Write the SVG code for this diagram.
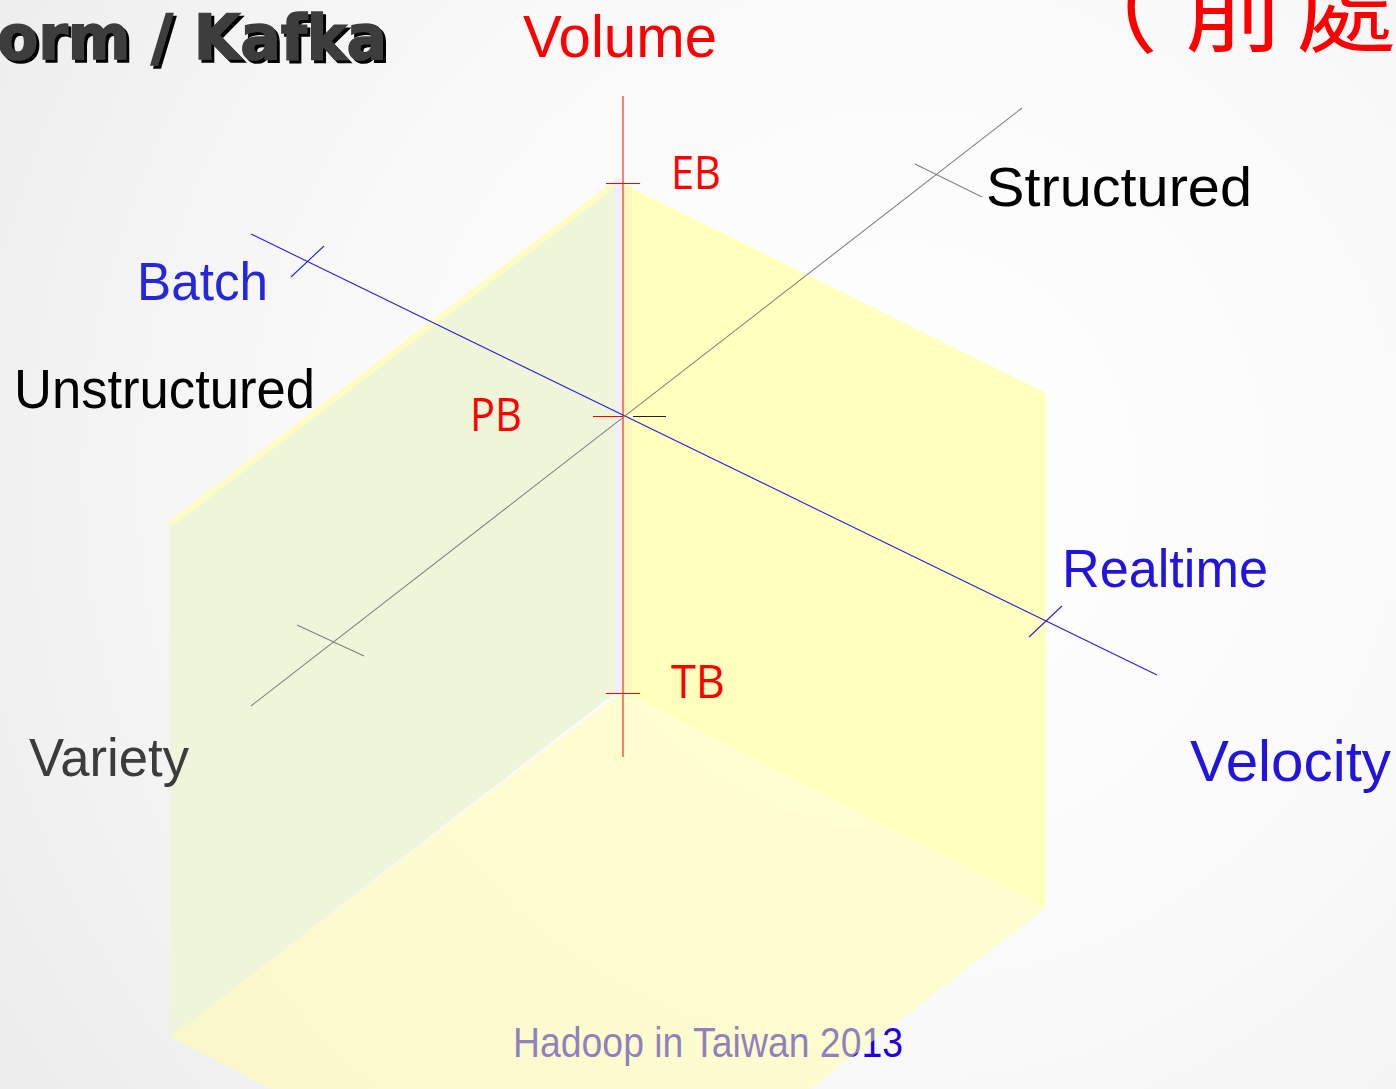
<svg xmlns="http://www.w3.org/2000/svg" width="1396" height="1089" viewBox="0 0 1396 1089">
  <defs>
    <radialGradient id="bg" cx="900" cy="480" r="1050" gradientUnits="userSpaceOnUse">
      <stop offset="0" stop-color="#ffffff"/>
      <stop offset="0.55" stop-color="#f9f9f9"/>
      <stop offset="1" stop-color="#ededed"/>
    </radialGradient>
    <filter id="shadow" x="-5%" y="-20%" width="115%" height="150%">
      <feOffset in="SourceAlpha" dx="3" dy="3" result="off"/>
      <feMerge>
        <feMergeNode in="off"/>
        <feMergeNode in="SourceGraphic"/>
      </feMerge>
    </filter>
    <style>
      .lbl { font-family: "Liberation Sans", Arial, sans-serif; }
      .unit { font-family: "Open Sans", "Noto Sans", sans-serif; fill: #ff0000; font-size: 45px; }
      .red { fill: #ff0000; }
      .blue { fill: #2214dc; }
      .blk { fill: #000000; }
      .ax-red { stroke: #ff0000; stroke-width: 1; fill: none; }
      .ax-blue { stroke: #2a1ee0; stroke-width: 1.1; fill: none; }
      .ax-gray { stroke: #808080; stroke-width: 1.1; fill: none; }
      .tick-black { stroke: #202020; stroke-width: 1.2; fill: none; }
    </style>
  </defs>

  <rect x="0" y="0" width="1396" height="1089" fill="url(#bg)"/>

  <!-- Title (cut off at the left edge) -->
  <g id="title" filter="url(#shadow)">
    <text x="-3" y="59" font-family="'DejaVu Sans', sans-serif" font-weight="bold" font-size="62" textLength="390" lengthAdjust="spacingAndGlyphs" fill="#3e3e3e" stroke="#3e3e3e" stroke-width="1.6">orm / Kafka</text>
  </g>

  <g id="subtitle-cjk">
    <text x="1058 1184 1296" y="44" font-family="'Noto Sans CJK TC', 'Noto Sans CJK SC', sans-serif" font-size="100" fill="#ff0000">（前處</text>
  </g>

  <!-- Cube faces -->
  <g id="face-left">
    <polygon points="615,183 170,523 170,1037 615,693" fill="#eff5d9"/>
    <line x1="615" y1="184" x2="170" y2="524" stroke="#fdfdc2" stroke-width="6"/>
    <rect x="614" y="178" width="8" height="515" fill="#eef1f8"/>
  </g>
  <g id="face-right">
    <polygon points="622,183 1046,393 1046,908 622,693" fill="#ffffbe"/>
    <rect x="623" y="186" width="9" height="507" fill="#f9f9bf"/>
  </g>

  <!-- Footer text (lies under the translucent bottom face) -->
  <g id="footer">
    <text class="lbl" x="513" y="1057" font-size="42" textLength="390" lengthAdjust="spacingAndGlyphs" fill="#2200dd">Hadoop in Taiwan 2013</text>
  </g>

  <g id="face-bottom">
    <polygon points="620,693 1046,908 594,1255 170,1037" fill="#ffffa3" fill-opacity="0.5"/>
  </g>

  <!-- Axes -->
  <g id="connectors">
    <line class="ax-red" x1="623" y1="96" x2="623" y2="757"/>
    <line class="ax-red" x1="606" y1="183.5" x2="640" y2="183.5"/>
    <line class="ax-red" x1="593" y1="416.5" x2="623" y2="416.5"/>
    <line class="tick-black" x1="633" y1="416.5" x2="666" y2="416.5"/>
    <line class="ax-red" x1="606" y1="693.5" x2="640" y2="693.5"/>

    <line class="ax-blue" x1="251" y1="234" x2="1157" y2="675"/>
    <line class="ax-blue" x1="291" y1="277" x2="324" y2="246"/>
    <line class="ax-blue" x1="1029" y1="637" x2="1062" y2="606"/>

    <line class="ax-gray" x1="251" y1="706" x2="1022" y2="108"/>
    <line class="ax-gray" x1="915" y1="164" x2="982" y2="197"/>
    <line class="ax-gray" x1="297" y1="625" x2="364" y2="656"/>
  </g>

  <!-- Labels -->
  <g id="volume"><text class="lbl red" x="523" y="57" font-size="60" textLength="194" lengthAdjust="spacingAndGlyphs">Volume</text></g>
  <g id="eb"><text class="unit" x="671" y="189" textLength="50" lengthAdjust="spacingAndGlyphs">EB</text></g>
  <g id="pb"><text class="unit" x="470" y="431" textLength="52" lengthAdjust="spacingAndGlyphs">PB</text></g>
  <g id="tb"><text class="unit" x="671" y="698" textLength="54" lengthAdjust="spacingAndGlyphs">TB</text></g>
  <g id="structured"><text class="lbl blk" x="986" y="206" font-size="56" textLength="266" lengthAdjust="spacingAndGlyphs">Structured</text></g>
  <g id="unstructured"><text class="lbl blk" x="14" y="408" font-size="55" textLength="301" lengthAdjust="spacingAndGlyphs">Unstructured</text></g>
  <g id="batch"><text class="lbl" x="137" y="300" font-size="53" textLength="131" lengthAdjust="spacingAndGlyphs" fill="#2626dc">Batch</text></g>
  <g id="realtime"><text class="lbl blue" x="1062" y="587" font-size="54" textLength="206" lengthAdjust="spacingAndGlyphs">Realtime</text></g>
  <g id="velocity"><text class="lbl blue" x="1190" y="781" font-size="58" textLength="201" lengthAdjust="spacingAndGlyphs">Velocity</text></g>
  <g id="variety"><text class="lbl" x="29" y="776" font-size="53" textLength="160" lengthAdjust="spacingAndGlyphs" fill="#3c3c3c">Variety</text></g>
</svg>
